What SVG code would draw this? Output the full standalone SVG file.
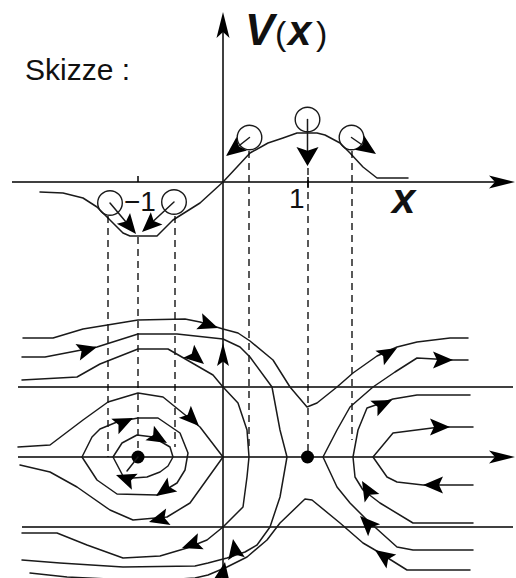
<svg xmlns="http://www.w3.org/2000/svg" xmlns:xlink="http://www.w3.org/1999/xlink" width="516" height="578" viewBox="0 0 516 578">
<style>
.ax{stroke:#000;stroke-width:1.5;fill:none}
.ln{stroke:#1a1a1a;stroke-width:1.5;fill:none;stroke-linejoin:round;stroke-linecap:round}
.ds{stroke:#000;stroke-width:1.3;fill:none;stroke-dasharray:7 5}
.ball{stroke:#1a1a1a;stroke-width:1.4;fill:none}
.ah{fill:#000}
.t{font-family:"Liberation Sans",Arial,sans-serif;fill:#111}
.bi{font-weight:bold;font-style:italic}
</style>
<defs>
<path id="ah" d="M0,0 L-20,-8.5 L-16,0 L-20,8.5 Z"/>
<path id="axh" d="M0,0 L-26,-6.5 L-20,0 L-26,6.5 Z"/>
</defs>
<rect width="516" height="578" fill="#fff"/>

<g id="labels">
<text class="t" x="25" y="80" font-size="30">Skizze :</text>
<text class="t" y="45"><tspan class="bi" x="245" font-size="44">V</tspan><tspan x="275" font-size="34">(</tspan><tspan class="bi" x="288" font-size="42">x</tspan><tspan x="316" font-size="34">)</tspan></text>
<text class="t bi" x="392" y="213" font-size="42">x</text>
<text class="t" x="289" y="208" font-size="28">1</text>
<text class="t" x="124" y="211" font-size="28">−1</text>
</g>

<g id="axes">
<line class="ax" x1="12" y1="182" x2="500" y2="182"/>
<use href="#axh" class="ah" transform="translate(515,182)"/>
<line class="ax" x1="223" y1="578" x2="223" y2="28"/>
<use href="#axh" class="ah" transform="translate(223,12) rotate(-90)"/>
<line class="ax" x1="138" y1="176" x2="138" y2="182"/>
<line class="ax" x1="308" y1="177" x2="308" y2="188"/>
<line class="ax" x1="18" y1="387" x2="513" y2="387"/>
<line class="ax" x1="18" y1="457" x2="500" y2="457"/>
<use href="#axh" class="ah" transform="translate(515,457)"/>
<line class="ax" x1="22" y1="527" x2="513" y2="527"/>
<use href="#ah" class="ah" transform="translate(223,343) rotate(-90) scale(1.15,0.7)"/>
</g>

<g id="potential">
<polyline class="ln" points="40,192 63,193 83,198 97,207 110,220 123,233 130,236 157,236 173,220 200,203 223,182 237,167 250,153 268,143 283,138 297,133 317,133 325,135 340,143 350,153 363,167 377,178 408,178"/>
</g>

<g id="dashes">
<line class="ds" x1="108" y1="216" x2="108" y2="457"/>
<line class="ds" x1="138" y1="237" x2="138" y2="451"/>
<line class="ds" x1="175" y1="216" x2="175" y2="447"/>
<line class="ds" x1="249" y1="151" x2="249" y2="447"/>
<line class="ds" x1="308" y1="168" x2="308" y2="451"/>
<line class="ds" x1="352" y1="151" x2="352" y2="440"/>
</g>

<g id="balls">
<circle class="ball" cx="110" cy="203" r="12.3"/>
<line class="ln" x1="110" y1="203" x2="131" y2="228"/>
<use href="#ah" class="ah" transform="translate(136,234) rotate(51)"/>
<circle class="ball" cx="174" cy="202" r="12.3"/>
<line class="ln" x1="174" y1="202" x2="147" y2="227"/>
<use href="#ah" class="ah" transform="translate(142,232) rotate(137)"/>
<circle class="ball" cx="249.5" cy="137.5" r="12.3"/>
<line class="ln" x1="249.5" y1="137.5" x2="231" y2="152"/>
<use href="#ah" class="ah" transform="translate(226,156) rotate(142)"/>
<circle class="ball" cx="307.5" cy="119.5" r="12.3"/>
<line class="ln" x1="307.5" y1="119.5" x2="307.5" y2="158"/>
<use href="#ah" class="ah" transform="translate(307.5,166) rotate(90) scale(0.95,1.3)"/>
<circle class="ball" cx="351.5" cy="137.5" r="12.3"/>
<line class="ln" x1="351.5" y1="137.5" x2="371" y2="151"/>
<use href="#ah" class="ah" transform="translate(376,154) rotate(34)"/>
</g>

<g id="fixed-points">
<circle cx="138" cy="457" r="6.5" fill="#000"/>
<circle cx="307.5" cy="457" r="6.5" fill="#000"/>
</g>

<g id="trajectories">
<polyline class="ln" points="23,338 53,338 83,329 138,320 185,319 200,322 223,329 238,333 250,341 273,360 290,387 307,407 317,403 337,387 353,373 377,356 397,347 417,342 450,338 468,338"/>
<polyline class="ln" points="22,357 45,357 97,347 138,334 177,334 223,339 240,347 250,357 272,387 280,430 287,457 280,497 270,527 257,545 245,552 227,558 208,563 195,566 123,567 60,563 22,560"/>
<polyline class="ln" points="22,380 77,377 100,364 138,349 168,349 213,375 223,387 238,403 247,430 249,457 247,477 243,507 238,512 223,527 207,540 187,548 160,556 123,558 87,545 57,533 22,533"/>
<polyline class="ln" points="18,447 50,445 83,420 108,402 138,393 163,397 200,427 223,457 190,503 167,517 133,520 110,510 77,487 50,472 20,465"/>
<polygon class="ln" points="82,457 92,437 100,429 117,422 138,418 158,418 180,433 188,453 185,470 177,483 157,495 117,494 97,480"/>
<polygon class="ln" points="113,457 122,443 137,435 153,437 170,447 173,457 168,466 160,472 147,477 133,478 123,476"/>
<line class="ln" x1="138" y1="457" x2="127" y2="471"/>
<polyline class="ln" points="468,360 453,360 417,358 395,372 373,387 350,407 337,430 323,457 337,487 350,503 367,520 397,547 413,550 473,550"/>
<polyline class="ln" points="470,395 417,395 393,399 367,408 358,430 353,457 355,477 363,490 380,503 413,523 473,523"/>
<polyline class="ln" points="473,427 440,427 393,433 373,457 387,477 397,482 423,485 473,485"/>
<polyline class="ln" points="470,570 407,570 375,550 363,543 340,523 312,500 305,499 280,523 267,540 247,557 227,567 208,575 195,578 150,581 67,577 30,573"/>
</g>

<g id="flow-arrows" class="ah">
<use href="#ah" transform="translate(218,328) rotate(20)"/>
<use href="#ah" transform="translate(397,348) rotate(-30)"/>
<use href="#ah" transform="translate(97,347) rotate(-15)"/>
<use href="#ah" transform="translate(204,364) rotate(40)"/>
<use href="#ah" transform="translate(199,426) rotate(45)"/>
<use href="#ah" transform="translate(133,418) rotate(-25)"/>
<use href="#ah" transform="translate(167,443) rotate(30)"/>
<use href="#ah" transform="translate(116,475) rotate(200)"/>
<use href="#ah" transform="translate(156,496) rotate(145)"/>
<use href="#ah" transform="translate(149,522) rotate(165)"/>
<use href="#ah" transform="translate(182,548) rotate(160)"/>
<use href="#ah" transform="translate(233,539) rotate(-100)"/>
<use href="#ah" transform="translate(225,562) rotate(-80)"/>
<use href="#ah" transform="translate(453,360)"/>
<use href="#ah" transform="translate(392,400) rotate(-25)"/>
<use href="#ah" transform="translate(450,427)"/>
<use href="#ah" transform="translate(423,485) rotate(180)"/>
<use href="#ah" transform="translate(362,481) rotate(-120)"/>
<use href="#ah" transform="translate(360,516) rotate(-135)"/>
<use href="#ah" transform="translate(375,550) rotate(-145)"/>
</g>
</svg>
